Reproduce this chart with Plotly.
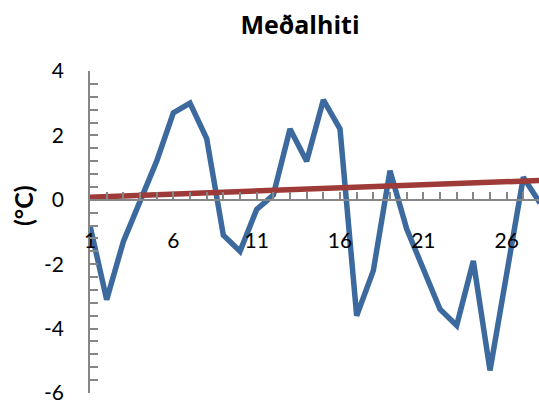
import plotly.graph_objects as go

days = list(range(1, 29))
temps = [-0.8, -3.1, -1.3, 0.0, 1.2, 2.7, 3.0, 1.9, -1.1, -1.6,
         -0.3, 0.15, 2.2, 1.2, 3.1, 2.2, -3.6, -2.2, 0.9, -0.9,
         -2.2, -3.4, -3.9, -1.9, -5.3, -2.3, 0.7, -0.1]
trend_days = [1, 28]
trend_vals = [0.08, 0.6]
title_text = "Meðalhiti"
ytitle = "(°C)"
y_tickvals = [-6, -4, -2, 0, 2, 4]
y_ticktext = ["-6", "-4", "-2", "0", "2", "4"]

font_family = "Lato"
axis_grey = "#868686"

fig = go.Figure()
fig.add_trace(go.Scatter(x=days, y=temps, mode="lines",
                         line=dict(color="#3C6A9E", width=5.5),
                         showlegend=False, hoverinfo="skip"))
fig.add_trace(go.Scatter(x=trend_days, y=trend_vals, mode="lines",
                         line=dict(color="#9E3B39", width=5.5),
                         showlegend=False, hoverinfo="skip"))

fig.update_layout(
    width=539, height=401,
    margin=dict(l=90, r=0, t=71, b=8),
    paper_bgcolor="white", plot_bgcolor="white",
    font=dict(family=font_family, size=21, color="black"),
    title=dict(text="<b>" + title_text + "</b>", x=300 / 539, xref="container",
               xanchor="center", y=1 - 25 / 401, yref="container", yanchor="middle",
               automargin=False,
               font=dict(size=25, family="Open Sans", color="black")),
    xaxis=dict(range=[1, 1 + 449 / (100 / 6)], anchor="free", position=0.6,
               automargin=False,
               showgrid=False, zeroline=False,
               showline=True, linecolor=axis_grey, linewidth=1.5,
               ticks="inside", ticklen=7, tickcolor=axis_grey, tickwidth=1.5,
               tick0=1, dtick=5, ticklabelstandoff=22,
               minor=dict(dtick=1, tick0=1, ticks="inside", ticklen=7,
                          tickcolor=axis_grey, tickwidth=1.5),
               tickfont=dict(size=21, family=font_family)),
    yaxis=dict(range=[-6, 4], showgrid=False, zeroline=False,
               automargin=False, ticklabeloverflow="allow",
               showline=True, linecolor=axis_grey, linewidth=1.5,
               ticks="inside", ticklen=8, tickcolor=axis_grey, tickwidth=1.5,
               tickvals=y_tickvals, ticktext=y_ticktext, ticklabelstandoff=20,
               minor=dict(dtick=0.4, ticks="inside", ticklen=8,
                          tickcolor=axis_grey, tickwidth=1.5),
               tickfont=dict(size=21, family=font_family)),
    annotations=[dict(text="<b>" + ytitle + "</b>", textangle=-90,
                      xref="paper", yref="paper",
                      x=(23 - 90) / 449, y=(393 - 206) / 322,
                      xanchor="center", yanchor="middle", showarrow=False,
                      font=dict(size=25, family=font_family, color="black"))],
)

fig.write_html("out.html", config={"displayModeBar": False},
               post_script="document.body.style.margin='0';")
